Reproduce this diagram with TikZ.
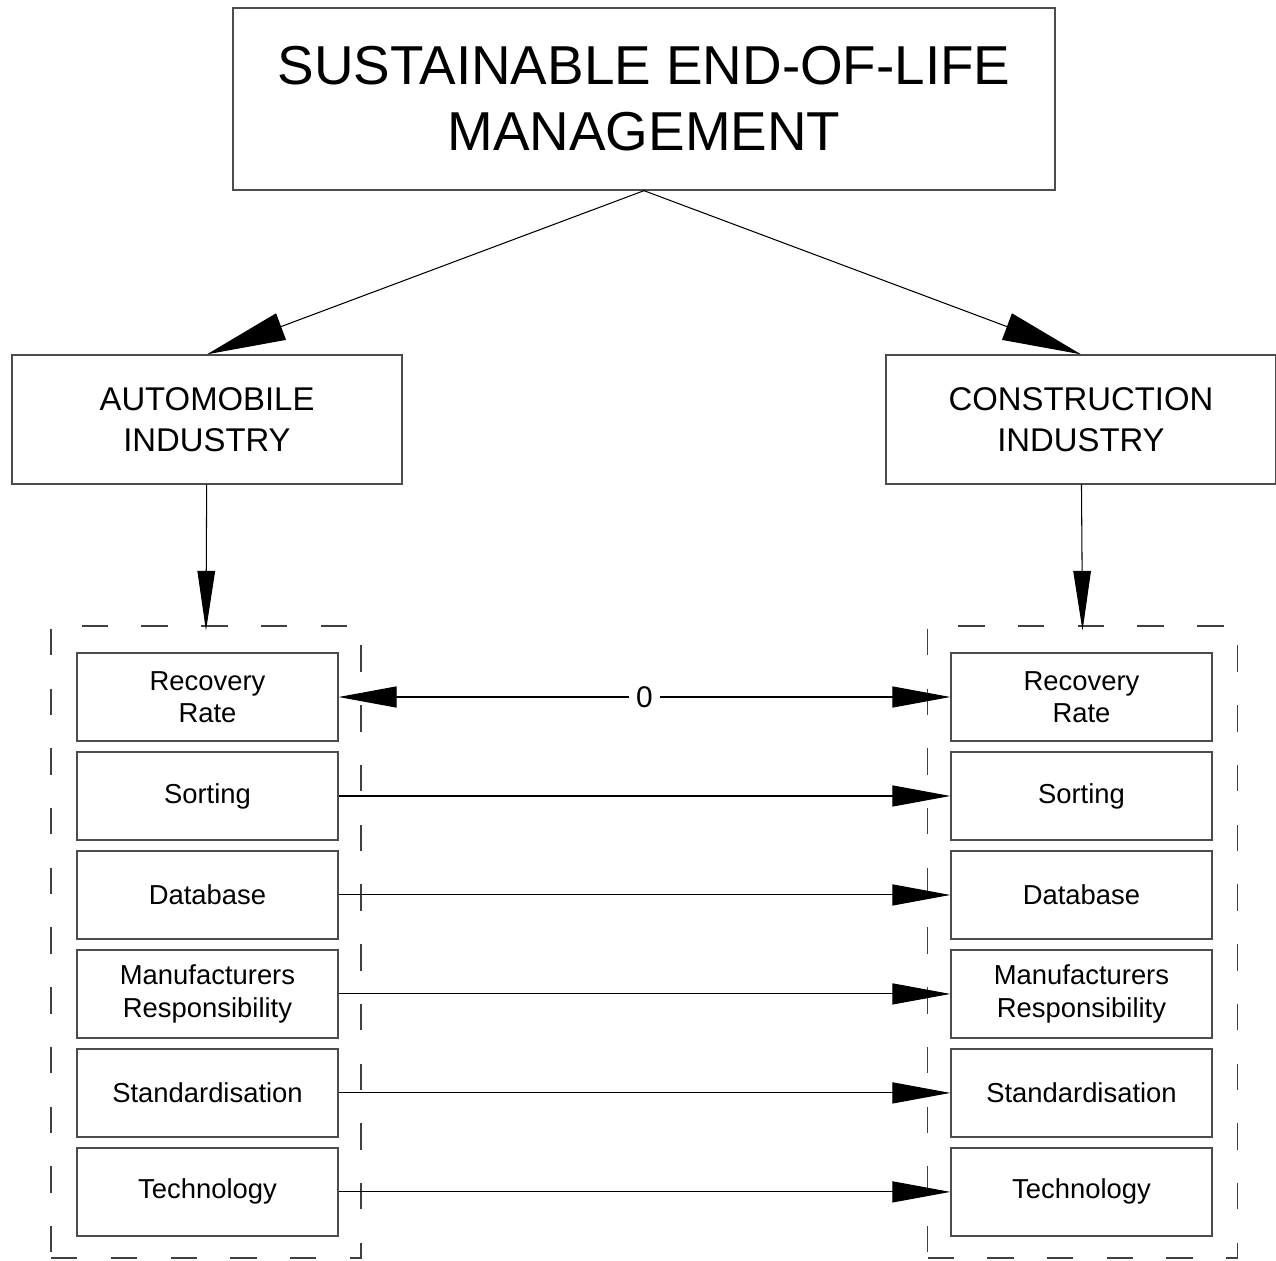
\documentclass[tikz,border=0pt]{standalone}
\usepackage{fontspec}
\setmainfont{Liberation Sans}
\usetikzlibrary{positioning, arrows.meta}

\tikzset{
    boxed/.style={draw=black!70, line width=0.8pt, align=center, inner sep=0pt},
    topbox/.style={boxed, minimum width=16.44cm, minimum height=3.64cm,
        font=\fontsize{31.2}{37.5}\selectfont},
    industry/.style={boxed, minimum width=7.8cm, minimum height=2.58cm,
        font=\fontsize{18.7}{23.2}\selectfont},
    factor/.style={boxed, minimum width=5.22cm, minimum height=1.76cm,
        font=\fontsize{15.6}{18.3}\selectfont},
    groupbox/.style={draw=black!75, line width=0.8pt, dash pattern=on 15pt off 19pt,
        minimum width=6.2cm, minimum height=12.64cm, inner sep=0pt},
    bighead/.style={line width=0.6pt, -{Triangle[length=45pt, width=16pt]}},
    midhead/.style={line width=0.6pt, shorten >=-3pt, -{Triangle[length=34pt, width=10pt]}},
    head/.style={line width=0.6pt, -{Triangle[length=33pt, width=12pt]}},
    twohead/.style={line width=0.6pt, {Triangle[length=33pt, width=12pt]}-{Triangle[length=33pt, width=12pt]}}
}

\begin{document}
\begin{tikzpicture}[x=0.02cm, y=-0.02cm, node distance=1.98cm, on grid]
    \useasboundingbox (0,0) rectangle (1276,1261);

    \node[topbox] (eol) at (644,99) {SUSTAINABLE END-OF-LIFE\\MANAGEMENT};
    \node[industry] (auto) at (207,419.5) {AUTOMOBILE\\INDUSTRY};
    \node[industry] (constr) at (1081,419.5) {CONSTRUCTION\\INDUSTRY};

    % dashed groups
    \node[groupbox] (lgroup) at (206,942) {};
    \node[groupbox] (rgroup) at (1082.5,942) {};

    % automobile factors
    \node[factor] (l1) at (207.5,697) {Recovery\\Rate};
    \node[factor] (l2) [below=of l1] {Sorting};
    \node[factor] (l3) [below=of l2] {Database};
    \node[factor] (l4) [below=of l3] {Manufacturers\\Responsibility};
    \node[factor] (l5) [below=of l4] {Standardisation};
    \node[factor] (l6) [below=of l5] {Technology};

    % construction factors
    \node[factor] (r1) at (1081.5,697) {Recovery\\Rate};
    \node[factor] (r2) [below=of r1] {Sorting};
    \node[factor] (r3) [below=of r2] {Database};
    \node[factor] (r4) [below=of r3] {Manufacturers\\Responsibility};
    \node[factor] (r5) [below=of r4] {Standardisation};
    \node[factor] (r6) [below=of r5] {Technology};

    \draw[bighead] (eol.south) -- (auto.north);
    \draw[bighead] (eol.south) -- (constr.north);
    \draw[midhead] (auto) -- (lgroup.north);
    \draw[midhead] (constr) -- (rgroup.north);

    \draw[twohead] (l1) -- node[fill=white, inner sep=4pt, font=\fontsize{17}{20}\selectfont] {0} (r1);
    \draw[head] (l2) -- (r2);
    \draw[head] (l3) -- (r3);
    \draw[head] (l4) -- (r4);
    \draw[head] (l5) -- (r5);
    \draw[head] (l6) -- (r6);
\end{tikzpicture}
\end{document}
